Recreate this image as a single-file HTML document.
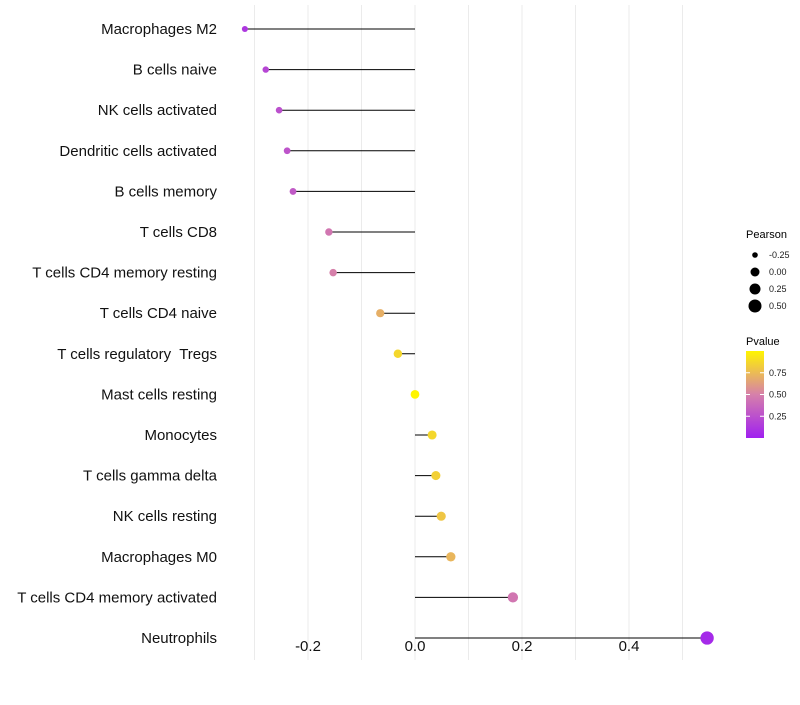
<!DOCTYPE html>
<html><head><meta charset="utf-8"><style>
body{margin:0;background:#fff;font-family:"Liberation Sans",sans-serif}
text{white-space:pre}
</style></head><body>
<svg id="chart" width="800" height="700" xmlns="http://www.w3.org/2000/svg" font-family="Liberation Sans, sans-serif"></svg>
<script>
const categories=["Macrophages M2","B cells naive","NK cells activated","Dendritic cells activated","B cells memory","T cells CD8","T cells CD4 memory resting","T cells CD4 naive","T cells regulatory  Tregs","Mast cells resting","Monocytes","T cells gamma delta","NK cells resting","Macrophages M0","T cells CD4 memory activated","Neutrophils"];
const pearson=[-0.318,-0.279,-0.254,-0.239,-0.228,-0.161,-0.153,-0.065,-0.032,0.0,0.032,0.039,0.049,0.067,0.183,0.546];
const pvalues=[0.12,0.2,0.25,0.27,0.3,0.45,0.5,0.7,0.87,1.0,0.87,0.84,0.8,0.73,0.45,0.05];
const xTicks=[-0.2,0,0.2,0.4];
const xTickLabels=["-0.2","0.0","0.2","0.4"];
const sizeTicks=[-0.25,0,0.25,0.5];
const sizeTickLabels=["-0.25","0.00","0.25","0.50"];
const pTicks=[0.25,0.5,0.75];
const pTickLabels=["0.25","0.50","0.75"];

const svg=document.getElementById('chart');
const NS='http://www.w3.org/2000/svg';
function el(t,a,p){const e=document.createElementNS(NS,t);for(const k in a)e.setAttribute(k,a[k]);(p||svg).appendChild(e);return e;}
const X=v=>415+v*535;
const Y=i=>29+i*40.6;
const R=v=>Math.max(2,3.2+(v+0.28)*4.2);
function col(p){const a=[160,32,240],m=[214,128,170],b=[255,245,0];let c;
 if(p<0.5){const t=p/0.5;c=a.map((x,i)=>x+(m[i]-x)*t);}else{const t=(p-0.5)/0.5;c=m.map((x,i)=>x+(b[i]-x)*t);}
 return 'rgb('+c.map(Math.round).join(',')+')';}

for(let g=-0.3;g<=0.51;g+=0.1){const l=el('line',{x1:X(g),x2:X(g),y1:5,y2:660,stroke:'#ebebeb','stroke-width':1});

}
categories.forEach((c,i)=>{
 const y=Y(i);
 const t=el('text',{x:217,y:y+5,'text-anchor':'end','font-size':15,fill:'#111'});t.textContent=c;
 
 
 const s=el('line',{x1:X(0),x2:X(pearson[i]),y1:y,y2:y,stroke:'#000','stroke-width':1});
 
 
 const d=el('circle',{cx:X(pearson[i]),cy:y,r:R(pearson[i]),fill:col(pvalues[i])});
 
 
});
xTicks.forEach((v,i)=>{const t=el('text',{x:X(v),y:651,'text-anchor':'middle','font-size':15,fill:'#111'});t.textContent=xTickLabels[i];
 
 });
let t=el('text',{x:746,y:238,'font-size':11,fill:'#000'});t.textContent='Pearson';


sizeTicks.forEach((v,i)=>{const y=255+i*17;
 const c=el('circle',{cx:755,cy:y,r:[2.8,4.5,5.5,6.5][i],fill:'#000'});
 
 
 const tt=el('text',{x:769,y:y+3,'font-size':9,fill:'#1a1a1a'});tt.textContent=sizeTickLabels[i];
 
 });
t=el('text',{x:746,y:345,'font-size':11,fill:'#000'});t.textContent='Pvalue';


const defs=el('defs',{});const lg=el('linearGradient',{id:'pg',x1:0,y1:1,x2:0,y2:0},defs);
[0,0.25,0.5,0.75,1].forEach(o=>el('stop',{offset:o,'stop-color':col(o)},lg));
const bar=el('rect',{x:746,y:351,width:18,height:87,fill:'url(#pg)'});


const PY=p=>438-p*87;
pTicks.forEach((v,i)=>{el('line',{x1:746,x2:750,y1:PY(v),y2:PY(v),stroke:'#fff'});el('line',{x1:760,x2:764,y1:PY(v),y2:PY(v),stroke:'#fff'});
 const tt=el('text',{x:769,y:PY(v)+3,'font-size':9,fill:'#1a1a1a'});tt.textContent=pTickLabels[i];
 
 });
</script>
</body></html>
